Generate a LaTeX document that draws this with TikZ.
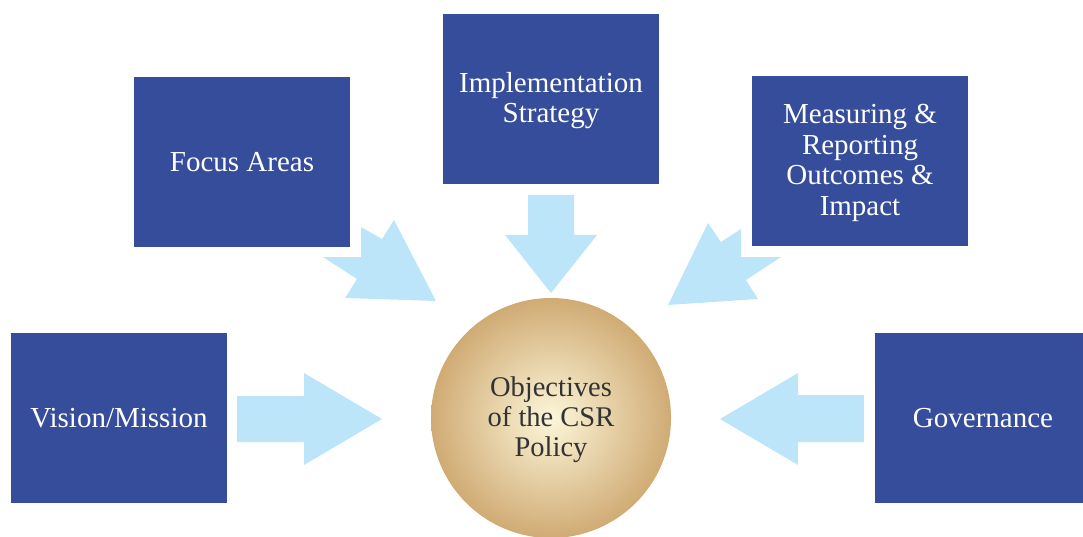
\documentclass[tikz,border=0pt]{standalone}
\usepackage{fontspec}
\setmainfont{Liberation Serif}
\definecolor{boxblue}{HTML}{354D9B}
\definecolor{arrowblue}{HTML}{BDE5F9}
\definecolor{tanout}{HTML}{D0AB74}
\definecolor{tanin}{HTML}{FCF6DA}
\definecolor{textgray}{HTML}{333333}
\begin{document}
\begin{tikzpicture}[x=1pt,y=-1pt,
  box/.style={fill=boxblue, draw=none, text=white, font=\fontsize{29}{30.5}\selectfont,
    align=center, inner sep=0pt, minimum width=216pt, minimum height=170pt},
  blockarrow/.style={fill=arrowblue, draw=none},
  boxlabel/.style={text=white, font=\fontsize{29}{30.5}\selectfont, align=center, inner sep=0pt}]
\useasboundingbox (0,0) rectangle (1083,537);
% arrows
\fill[blockarrow] (528,195) -- (574,195) -- (574,235) -- (597,235) -- (551,293) -- (505,235) -- (528,235) -- cycle;
\fill[blockarrow] (345,298) -- (357,279) -- (323,257) -- (361,257) -- (361,227) -- (382,239) -- (394,220) -- (436,301) -- cycle;
\fill[blockarrow] (668,305) -- (708,223) -- (721,242) -- (741,229) -- (741,257) -- (781,257) -- (746,280) -- (758,299) -- cycle;
\fill[blockarrow] (237,396) -- (304,396) -- (304,373) -- (382,419) -- (304,465) -- (304,442) -- (237,442) -- cycle;
\fill[blockarrow] (864,395) -- (798,395) -- (798,373) -- (720,419) -- (798,465) -- (798,442) -- (864,442) -- cycle;
% boxes
\node[box] (focus) at (242,162) {Focus Areas};
\node[box] (impl) at (551,99) {};
\node[boxlabel] (impltext) at (551,100.5) {Implementation\\Strategy};
\node[box] (meas) at (860,161) {};
\node[boxlabel] (meastext) at (860,163) {Measuring \&\\Reporting\\Outcomes \&\\Impact};
\node[box] (vision) at (119,418) {Vision/Mission};
\node[box] (gov) at (983,418) {Governance};
% centre circle
\node[circle, minimum size=240pt, inner sep=0pt, shading=radial, inner color=tanin, outer color=tanout] (obj) at (551,418) {};
\node[text=textgray, align=center, inner sep=0pt, font=\fontsize{28.5}{30}\selectfont] (objtext) at (551,420) {Objectives\\of the CSR\\Policy};
\end{tikzpicture}
\end{document}
